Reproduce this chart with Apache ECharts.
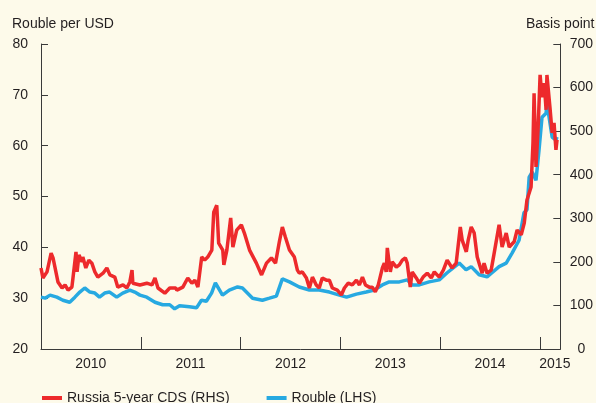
<!DOCTYPE html>
<html>
<head>
<meta charset="utf-8">
<script src="https://cdn.jsdelivr.net/npm/echarts@6/dist/echarts.min.js"></script>
<style>
  html, body { margin: 0; padding: 0; background: #fdfaea; }
  #main { width: 596px; height: 403px; }
</style>
</head>
<body>
<div id="main"></div>
<script>
// Rouble per USD (left axis)
var rubDates = ['2010-01-01','2010-01-16','2010-02-03','2010-02-28','2010-03-22','2010-04-16','2010-05-05','2010-05-23',
  '2010-06-10','2010-06-29','2010-07-17','2010-08-03','2010-08-22','2010-09-09','2010-10-05','2010-10-27','2010-11-22',
  '2010-12-10','2010-12-29','2011-01-23','2011-02-22','2011-03-22','2011-04-17',
  '2011-05-05','2011-05-23','2011-06-28','2011-07-24','2011-08-11','2011-08-29','2011-09-17',
  '2011-10-01','2011-10-27','2011-11-21','2011-12-21','2012-01-08','2012-02-14','2012-03-21','2012-04-16','2012-05-11',
  '2012-06-02','2012-06-28','2012-08-03','2012-09-09','2012-10-15','2012-11-21','2012-12-28','2013-01-23','2013-02-28',
  '2013-04-05','2013-05-04','2013-06-03','2013-06-28','2013-08-04','2013-09-02','2013-09-20','2013-10-16','2013-11-21',
  '2013-12-28','2014-01-26','2014-03-11','2014-04-05','2014-04-24','2014-05-23','2014-06-21','2014-07-09','2014-08-04',
  '2014-08-30','2014-09-21','2014-10-16','2014-11-03','2014-11-14','2014-11-22','2014-12-03','2014-12-17','2014-12-28',
  '2015-01-08','2015-01-23','2015-01-26','2015-02-06','2015-02-14','2015-02-28','2015-03-04'];
var rubValues = [30.2,30.0,30.6,30.2,29.6,29.2,30.2,31.2,
  32.0,31.2,31.0,30.2,31.0,31.2,30.2,31.0,31.6,
  31.2,30.6,30.2,29.2,28.7,28.7,
  27.9,28.5,28.3,28.1,29.6,29.4,31.0,
  33.0,30.6,31.6,32.2,32.0,30.0,29.6,30.0,30.4,
  33.8,33.2,32.2,31.6,31.6,31.2,30.6,30.2,30.8,
  31.2,31.6,32.6,33.2,33.2,33.6,32.6,32.6,33.2,
  33.6,35.0,36.9,35.6,36.2,34.6,34.2,35.0,36.2,
  36.9,38.9,41.4,46.8,47.4,53.8,54.8,53.2,59.1,
  65.6,66.4,68.4,64.5,61.7,61.1,61.7];

// Russia 5-year CDS, basis points (right axis)
var cdsDates = ['2010-01-01','2010-01-08','2010-01-23','2010-02-07','2010-02-14','2010-02-21','2010-03-04','2010-03-19',
  '2010-03-30','2010-04-10','2010-04-24','2010-04-28','2010-05-09','2010-05-13','2010-05-20','2010-05-31','2010-06-03',
  '2010-06-14','2010-06-25','2010-07-06','2010-07-17','2010-07-28','2010-08-16','2010-08-30','2010-09-10','2010-09-28',
  '2010-10-09','2010-10-28','2010-11-11','2010-11-22','2010-11-30','2010-12-03','2010-12-29','2011-01-23','2011-02-11',
  '2011-02-22','2011-03-05','2011-03-30','2011-04-17','2011-05-09','2011-05-13','2011-06-04',
  '2011-06-22','2011-07-07','2011-07-18','2011-07-29','2011-08-12','2011-08-23','2011-09-03','2011-09-18','2011-09-25',
  '2011-10-06','2011-10-13','2011-10-28','2011-11-01','2011-11-12','2011-11-26','2011-12-04','2011-12-18','2012-01-04',
  '2012-01-15','2012-02-03','2012-02-28','2012-03-18','2012-04-05','2012-04-23','2012-05-08','2012-05-22','2012-06-02',
  '2012-06-13','2012-06-28','2012-07-16','2012-07-27','2012-08-03','2012-08-14','2012-08-29','2012-09-09','2012-09-20',
  '2012-10-04','2012-10-15','2012-10-26','2012-11-10','2012-11-21','2012-12-02','2012-12-20','2013-01-04','2013-01-15',
  '2013-01-29','2013-02-13','2013-02-28','2013-03-11','2013-03-22','2013-04-02','2013-04-16','2013-04-27','2013-05-08',
  '2013-05-19','2013-06-03','2013-06-10','2013-06-17','2013-06-21','2013-07-02','2013-07-09','2013-07-24','2013-08-04',
  '2013-08-15','2013-08-26','2013-09-02','2013-09-13','2013-09-20','2013-10-05','2013-10-16','2013-10-30','2013-11-14',
  '2013-11-29','2013-12-10','2013-12-28','2014-01-12','2014-01-26','2014-02-13','2014-02-28','2014-03-15','2014-03-22',
  '2014-04-06','2014-04-13','2014-04-24','2014-05-05','2014-05-16','2014-06-03','2014-06-10','2014-06-21','2014-07-06',
  '2014-07-17','2014-08-04','2014-08-15','2014-08-30','2014-09-10','2014-09-28','2014-10-09','2014-10-24','2014-11-04',
  '2014-11-14','2014-11-29','2014-12-06','2014-12-10','2014-12-17','2014-12-25','2015-01-01','2015-01-08','2015-01-16',
  '2015-01-23','2015-01-26','2015-02-06','2015-02-14','2015-02-21','2015-02-28','2015-03-04'];
var cdsValues = [186,163,177,220,209,188,154,140,
  147,135,142,163,223,177,216,200,211,
  186,204,197,177,165,174,186,170,165,
  142,147,140,154,181,151,147,151,147,
  163,140,128,140,140,135,142,
  163,151,158,142,211,204,211,227,314,
  330,243,227,193,227,301,234,273,285,
  266,227,197,170,197,209,197,246,280,
  257,227,211,181,174,177,163,140,165,
  147,140,163,158,158,140,135,124,140,
  151,147,158,147,165,147,142,142,131,
  147,186,197,177,232,177,200,188,193,
  204,209,197,142,177,163,151,165,174,
  163,177,165,181,204,186,197,280,250,
  223,250,280,266,211,174,197,174,181,
  220,285,234,266,234,246,273,262,289,
  342,372,473,587,418,510,629,578,610,
  549,629,555,496,519,457,480];

var yearTicks = ['2011-01-01','2012-01-01','2013-01-01','2014-01-01','2015-01-01'];
var yearLabelPos = ['2010-07-02','2011-07-02','2012-07-02','2013-07-02','2014-07-02','2015-02-24'];

function t(s) { return new Date(s + 'T00:00:00').getTime(); }
function pairs(dates, vals) { return dates.map(function (d, i) { return [t(d), vals[i]]; }); }

var textColor = '#231f20';
var axisColor = '#3a3a3a';

var chart = echarts.init(document.getElementById('main'), null, { renderer: 'canvas' });
chart.setOption({
  backgroundColor: '#fdfaea',
  animation: false,
  textStyle: { fontFamily: 'Liberation Sans, Arial, sans-serif' },
  title: [
    { text: 'Rouble per USD', left: 12, top: 17, padding: 0, textStyle: { fontSize: 14, fontWeight: 'normal', color: textColor } },
    { text: 'Basis point', left: 526, top: 17, padding: 0, textStyle: { fontSize: 14, fontWeight: 'normal', color: textColor } }
  ],
  grid: { left: 41, right: 35, top: 44, bottom: 54 },
  legend: {
    data: ['Russia 5-year CDS (RHS)', 'Rouble (LHS)'],
    left: 37, top: 386,
    icon: 'rect', itemWidth: 20, itemHeight: 4, itemGap: 37,
    textStyle: { fontSize: 14, color: textColor }
  },
  xAxis: {
    // dates as timestamps on a value axis so ticks and labels can be placed freely
    type: 'value',
    min: t('2010-01-01'), max: t('2015-03-16'),
    axisLine: { lineStyle: { color: axisColor, width: 1 } },
    axisTick: { inside: true, length: 12, customValues: yearTicks.map(t), lineStyle: { color: axisColor } },
    axisLabel: {
      customValues: yearLabelPos.map(t), margin: 8, fontSize: 14, color: textColor,
      formatter: function (v) { return String(new Date(v).getFullYear()); }
    },
    splitLine: { show: false }
  },
  yAxis: [
    {
      type: 'value', min: 20, max: 80, interval: 10, position: 'left',
      axisLine: { show: true, lineStyle: { color: axisColor } },
      axisTick: { show: true, inside: true, length: 7, lineStyle: { color: axisColor } },
      axisLabel: { fontSize: 14, color: textColor, margin: 13 },
      splitLine: { show: false }
    },
    {
      type: 'value', min: 0, max: 700, interval: 100, position: 'right',
      axisLine: { show: true, lineStyle: { color: axisColor } },
      axisTick: { show: true, inside: true, length: 7, lineStyle: { color: axisColor } },
      axisLabel: { fontSize: 14, color: textColor, margin: 21, align: 'center' },
      splitLine: { show: false }
    }
  ],
  series: [
    {
      name: 'Rouble (LHS)', type: 'line', yAxisIndex: 0, showSymbol: false,
      data: pairs(rubDates, rubValues),
      itemStyle: { color: '#27a9e1' },
      lineStyle: { color: '#27a9e1', width: 3.5 }
    },
    {
      name: 'Russia 5-year CDS (RHS)', type: 'line', yAxisIndex: 1, showSymbol: false,
      data: pairs(cdsDates, cdsValues),
      itemStyle: { color: '#ed2a2c' },
      lineStyle: { color: '#ed2a2c', width: 3.5 }
    }
  ]
});
</script>
</body>
</html>
